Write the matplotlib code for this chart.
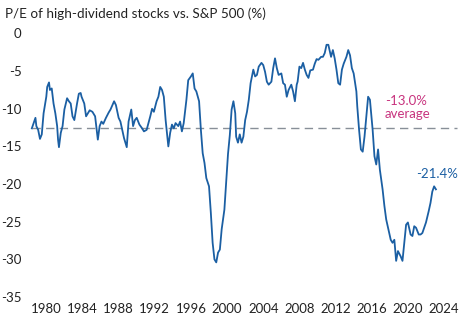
import matplotlib.pyplot as plt
import numpy as np

# P/E of high-dividend stocks relative to S&P 500 (%)
years = [1978.4, 1978.8, 1978.9, 1979.1, 1979.3, 1979.5, 1979.7, 1980.0, 1980.1, 1980.3,
         1980.4, 1980.6, 1980.8, 1981.0, 1981.2, 1981.3, 1981.4, 1981.6, 1981.8, 1982.0,
         1982.3, 1982.5, 1982.7, 1982.9, 1983.1, 1983.4, 1983.6, 1983.8, 1983.9, 1984.2,
         1984.4, 1984.6, 1984.8, 1985.1, 1985.4, 1985.6, 1985.7, 1985.9, 1986.1, 1986.3,
         1986.6, 1986.9, 1987.1, 1987.5, 1987.7, 1988.0, 1988.2, 1988.4, 1988.6, 1988.9,
         1989.1, 1989.4, 1989.6, 1989.8, 1990.0, 1990.3, 1990.6, 1990.8, 1991.1, 1991.3,
         1991.5, 1991.7, 1991.9, 1992.2, 1992.4, 1992.6, 1992.8, 1993.0, 1993.2, 1993.5,
         1993.7, 1993.9, 1994.1, 1994.3, 1994.6, 1994.8, 1995.0, 1995.2, 1995.5, 1995.7,
         1996.0, 1996.2, 1996.4, 1996.6, 1996.9, 1997.1, 1997.3, 1997.5, 1997.7, 1998.0,
         1998.2, 1998.4, 1998.6, 1998.8, 1999.0, 1999.2, 1999.4, 1999.7, 1999.9, 2000.1,
         2000.3, 2000.5, 2000.7, 2000.9, 2001.0, 2001.2, 2001.4, 2001.6, 2001.8, 2002.0,
         2002.2, 2002.4, 2002.6, 2002.9, 2003.1, 2003.3, 2003.5, 2003.8, 2004.0, 2004.2,
         2004.4, 2004.6, 2004.9, 2005.1, 2005.3, 2005.5, 2005.7, 2006.0, 2006.2, 2006.4,
         2006.6, 2006.8, 2007.1, 2007.3, 2007.5, 2007.7, 2007.8, 2008.0, 2008.2, 2008.4,
         2008.6, 2008.8, 2009.0, 2009.2, 2009.5, 2009.7, 2009.9, 2010.1, 2010.4, 2010.6,
         2010.8, 2011.0, 2011.2, 2011.5, 2011.7, 2011.9, 2012.1, 2012.3, 2012.5, 2012.7,
         2012.9, 2013.2, 2013.4, 2013.6, 2013.8, 2014.0, 2014.3, 2014.4, 2014.6, 2014.8,
         2015.0, 2015.2, 2015.5, 2015.6, 2015.8, 2016.1, 2016.3, 2016.5, 2016.7, 2016.9,
         2017.2, 2017.4, 2017.6, 2017.8, 2018.1, 2018.3, 2018.5, 2018.7, 2018.9, 2019.2,
         2019.4, 2019.6, 2019.8, 2020.0, 2020.3, 2020.5, 2020.7, 2020.9, 2021.2, 2021.4,
         2021.6, 2021.8, 2022.0, 2022.3, 2022.5, 2022.7, 2022.9, 2023.1]
pe_rel = [-12.6, -11.2, -12.3, -12.8, -14.0, -13.4, -10.6, -8.4, -7.1, -6.5,
          -7.5, -7.3, -9.3, -10.6, -12.3, -14.1, -15.1, -13.2, -12.3, -10.1,
          -8.6, -9.0, -9.3, -11.0, -11.5, -9.3, -8.0, -7.9, -8.4, -9.3,
          -11.0, -10.6, -10.2, -10.4, -11.0, -13.0, -14.1, -12.3, -11.7, -12.0,
          -11.2, -10.5, -10.1, -9.0, -9.5, -11.2, -11.7, -12.8, -13.9, -15.1,
          -11.7, -10.1, -12.3, -11.5, -11.2, -12.1, -12.6, -13.0, -12.8, -11.9,
          -11.0, -10.0, -10.4, -9.0, -8.4, -7.1, -7.5, -8.4, -11.5, -15.0,
          -13.2, -12.1, -12.6, -11.9, -12.3, -11.7, -13.0, -11.9, -8.8, -6.2,
          -5.7, -5.3, -7.3, -7.7, -9.0, -12.8, -15.9, -17.2, -19.2, -20.3,
          -23.8, -27.8, -30.0, -30.4, -29.1, -28.7, -26.0, -23.4, -19.8, -16.0,
          -13.5, -10.1, -9.0, -10.6, -13.7, -14.5, -13.4, -14.5, -13.7, -11.5,
          -10.4, -8.8, -6.6, -4.8, -5.7, -5.5, -4.4, -3.9, -4.2, -5.1,
          -6.4, -6.8, -6.4, -4.6, -3.3, -4.6, -5.5, -5.3, -6.6, -6.8,
          -8.4, -7.5, -6.8, -7.7, -9.0, -6.8, -6.4, -4.4, -4.6, -3.9,
          -4.8, -5.5, -5.9, -4.9, -4.8, -4.0, -3.4, -3.5, -3.1, -3.1,
          -2.6, -1.5, -1.5, -3.1, -2.2, -3.3, -4.8, -6.6, -6.8, -4.8,
          -4.0, -3.1, -2.2, -2.9, -4.6, -5.3, -7.7, -9.7, -12.8, -15.4,
          -15.7, -13.7, -9.7, -8.4, -8.8, -12.8, -16.3, -17.4, -15.4, -18.1,
          -20.7, -22.9, -24.7, -25.8, -27.4, -27.8, -27.4, -30.2, -28.9, -29.6,
          -30.2, -27.8, -25.4, -25.1, -26.7, -26.9, -25.6, -25.8, -26.7, -26.7,
          -26.5, -25.8, -25.1, -23.6, -22.5, -21.0, -20.3, -20.7]

avg_line = -12.5
avg_label = "-13.0%\naverage"
last_label = "-21.4%"
xticks = list(range(1980, 2025, 4))
yticks = list(range(-35, 1, 5))

line_blue = "#1b5fa3"
avg_pink = "#c8347f"
dash_grey = "#888f98"
plt.rcParams['font.family'] = ['Lato', 'DejaVu Sans']

fig = plt.figure(figsize=(4.73, 3.22), dpi=100)
W, H = 473, 322
# axes box in pixels: left 30, right 460, top 33.5, bottom 297
ax = fig.add_axes([30 / W, 1 - 297 / H, 430 / W, (297 - 33.5) / H])
x0 = 1980 + (30 - 46.3) / 9.04
x1 = 1980 + (460 - 46.3) / 9.04
ax.set_xlim(x0, x1)
ax.set_ylim(-35, 0)

ax.hlines(avg_line, 1978.4, 2025.4, colors=dash_grey, linewidth=1.0,
          linestyles=(0, (6, 3.8)), zorder=1)
ax.plot(years, pe_rel, color=line_blue, linewidth=1.3, zorder=2)

ax.text(2017.45, -9.8, avg_label, color=avg_pink, fontsize=9.5,
        ha='left', va='center', linespacing=1.15)
ax.text(2023.2, -18.7, last_label, color=line_blue, fontsize=9.5,
        ha='center', va='center')

ax.set_xticks(xticks)
ax.set_yticks(yticks)
ax.set_xticklabels([str(y) for y in xticks])
ax.set_yticklabels([str(y) for y in yticks])
ax.tick_params(length=0, labelsize=9.5, colors='#222222')
ax.tick_params(axis='y', pad=6)
ax.tick_params(axis='x', pad=4)
for s in ax.spines.values():
    s.set_visible(False)

fig.text(5 / W, 1 - 14 / H, "P/E of high-dividend stocks vs. S&P 500 (%)",
         fontsize=9.7, color='#222222', ha='left', va='center')

fig.savefig("out.png", dpi=100)
